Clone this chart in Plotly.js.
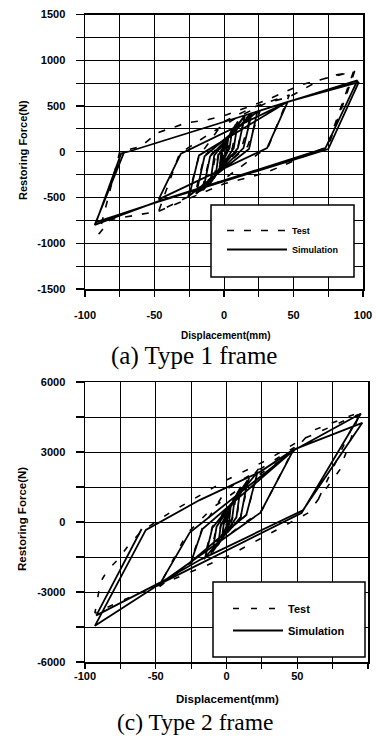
<!DOCTYPE html>
<html>
<head>
<meta charset="utf-8">
<script src="https://cdn.plot.ly/plotly-3.0.1.min.js"></script>
<style>html,body{margin:0;padding:0;background:#fff;}#chart{width:376px;height:736px;}</style>
</head>
<body>
<div id="chart"></div>
<script>
// ---- Data: Type 1 frame ----
const seriesNames = ['Test', 'Simulation'];
const test1X = [0, 3, 1, -3, -1, 6, 3, -7, -4, 10, 6, -10, -6, 15, 10, -16, -10, 20, 13, -21, -14, 26, 17, -26, -18, 0, 20, 47, 32, 0, -47, -32, -10, 10, 30, 47, 70, 94, 75, 30, 0, -47, -82, -90, -75, -60, -48, -37, -27, -12, 2, 30, 55, 69, 81, 93, 74];
const test1Y = [0, 160, 10, -150, -10, 260, 30, -270, -20, 340, 40, -360, -30, 400, 50, -430, -40, 430, 60, -470, -40, 450, 60, -500, -50, 330, 480, 620, 60, -300, -650, -20, 200, 380, 530, 600, 790, 880, 60, -230, -350, -650, -742, -900, 0, 55, 207, 262, 316, 349, 404, 560, 730, 785, 840, 870, 50];
const sim1X = [0, 3, 2, -3, -2, 6, 4, -6, -4, 10, 7, -10, -7, 15, 10, -15, -10, 20, 14, -20, -14, 24, 18, -25, -18, 46, 31, -47, -31, 46, 96, 73, -47, -93, -72, -69, 47, 97, 75, -47, -92, -74, -70];
const sim1Y = [0, 150, 20, -140, -20, 250, 40, -260, -40, 330, 40, -350, -40, 390, 40, -420, -50, 420, 40, -460, -50, 440, 30, -480, -40, 550, 40, -520, -20, 545, 780, 40, -540, -800, -10, 0, 550, 760, 30, -545, -770, -20, 0];
const x1Ticks = [-100, -50, 0, 50, 100];
const y1Ticks = [-1500, -1000, -500, 0, 500, 1000, 1500];

// ---- Data: Type 2 frame ----
const test2X = [0, 3, 1, -4, -2, 7, 4, -7, -4, 11, 7, -11, -7, 16, 10, -16, -10, 23, 14, -26, -17, 0, 30, 48, 25, -20, -48, -28, -10, 20, 47, 60, 94, 87, 80, 71, 58, 0, -47, -75, -93, -89, -84, -77, -68, -60, -40, 0, 30, 52, 93, 62];
const test2Y = [0, 800, 80, -700, -80, 1200, 100, -1100, -100, 1600, 150, -1400, -150, 1900, 200, -1600, -200, 2300, 300, -1800, -250, 1400, 2500, 3200, 500, -1500, -2800, -500, 600, 1900, 3000, 3900, 4700, 3390, 2230, 1500, 400, -1500, -2700, -3400, -3900, -2570, -2060, -1630, -900, -400, 400, 1800, 2700, 3500, 4600, 600];
const sim2X = [0, 3, 2, -3, -2, 6, 4, -6, -4, 10, 7, -10, -7, 15, 10, -15, -10, 22, 14, -25, -17, 47, 24, -47, -26, 47, 95, 53, -47, -93, -57, -19, 24, 47, 96, 54, -18, -47, -92, -60];
const sim2Y = [0, 700, 100, -600, -100, 1100, 150, -1000, -150, 1500, 200, -1300, -200, 1800, 200, -1500, -250, 2150, 300, -1700, -300, 3050, 400, -2650, -450, 3050, 4650, 380, -2650, -4450, -340, 940, 2160, 3090, 4250, 500, -1600, -2600, -4000, -300];
const x2Ticks = [-100, -50, 0, 50, 100];
const y2Ticks = [-6000, -3000, 0, 3000, 6000];

const captions = ['(a) Type 1 frame', '(c) Type 2 frame'];
const xTitle = 'Displacement(mm)';
const yTitle = 'Restoring Force(N)';

const SANS = 'Liberation Sans, Arial, sans-serif';
const SERIF = 'Liberation Serif, Times New Roman, serif';
const W = 376, H = 736;
const px = v => v / W, py = v => 1 - v / H;

const traces = [
  {x: test1X, y: test1Y, name: seriesNames[0], type: 'scatter', mode: 'lines', xaxis: 'x', yaxis: 'y', legend: 'legend', legendgroup: 'a',
   line: {color: '#000', width: 1.6, dash: '7px,10px'}},
  {x: sim1X, y: sim1Y, name: seriesNames[1], type: 'scatter', mode: 'lines', xaxis: 'x', yaxis: 'y', legend: 'legend', legendgroup: 'b',
   line: {color: '#000', width: 1.8}},
  {x: test2X, y: test2Y, name: seriesNames[0], type: 'scatter', mode: 'lines', xaxis: 'x2', yaxis: 'y2', legend: 'legend2', legendgroup: 'c',
   line: {color: '#000', width: 1.6, dash: '6px,12px'}},
  {x: sim2X, y: sim2Y, name: seriesNames[1], type: 'scatter', mode: 'lines', xaxis: 'x2', yaxis: 'y2', legend: 'legend2', legendgroup: 'd',
   line: {color: '#000', width: 1.8}}
];

function axisBase(extra) {
  return Object.assign({
    showline: true, linecolor: '#000', linewidth: 1.5, mirror: true,
    showgrid: true, gridcolor: '#000', gridwidth: 1, zeroline: false,
    ticks: 'outside', tickcolor: '#000', tickwidth: 1.2, ticklen: 6,
    tickfont: {family: SANS, size: 11, color: '#000', weight: 'bold'},
    fixedrange: true
  }, extra);
}

function ann(text, x, y, size, family, angle) {
  return {text: text, xref: 'paper', yref: 'paper', x: px(x), y: py(y), xanchor: 'center', yanchor: 'middle',
    textangle: angle || 0, showarrow: false, font: {family: family, size: size, color: '#000', weight: family === SANS ? 'bold' : 'normal'}};
}

const layout = {
  width: W, height: H, margin: {l: 0, r: 0, t: 0, b: 0},
  paper_bgcolor: '#fff', plot_bgcolor: '#fff',
  showlegend: true,
  xaxis: axisBase({domain: [px(85), px(363)], anchor: 'y', range: [-100, 100], tickvals: x1Ticks, ticktext: x1Ticks.map(String),
    ticklabelstandoff: 9, minor: {dtick: 25, tick0: 0, showgrid: true, gridcolor: '#000', gridwidth: 1, ticks: 'outside', ticklen: 6, tickcolor: '#000'}}),
  yaxis: axisBase({domain: [py(289), py(14.5)], anchor: 'x', range: [-1500, 1500], tickvals: y1Ticks, ticktext: y1Ticks.map(String), ticklen: 8,
    ticklabelstandoff: 8, minor: {dtick: 250, tick0: 0, showgrid: true, gridcolor: '#000', gridwidth: 1, ticks: 'outside', ticklen: 8, tickcolor: '#000'}}),
  xaxis2: axisBase({domain: [px(85), px(368)], anchor: 'y2', range: [-100, 100], tickvals: x2Ticks, ticktext: x2Ticks.map(String), ticklen: 3,
    ticklabelstandoff: 0, minor: {dtick: 25, tick0: 0, showgrid: true, gridcolor: '#000', gridwidth: 1, ticks: 'outside', ticklen: 5, tickcolor: '#000'}}),
  yaxis2: axisBase({domain: [py(662), py(382)], anchor: 'x2', range: [-6000, 6000], tickvals: y2Ticks, ticktext: y2Ticks.map(String), ticklen: 8,
    ticklabelstandoff: 8, minor: {dtick: 1500, tick0: 0, showgrid: true, gridcolor: '#000', gridwidth: 1, ticks: 'outside', ticklen: 8, tickcolor: '#000'}}),
  legend: {x: px(222), y: py(216), xanchor: 'left', yanchor: 'top', bgcolor: 'rgba(0,0,0,0)', borderwidth: 0,
    itemwidth: 60, tracegroupgap: 0, font: {family: SANS, size: 9, color: '#000', weight: 'bold'}},
  legend2: {x: px(228), y: py(594), xanchor: 'left', yanchor: 'top', bgcolor: 'rgba(0,0,0,0)', borderwidth: 0,
    itemwidth: 50, tracegroupgap: 3, font: {family: SANS, size: 11, color: '#000', weight: 'bold'}},
  shapes: [
    {type: 'rect', xref: 'paper', yref: 'paper', x0: px(211), x1: px(354), y0: py(277), y1: py(205), fillcolor: '#fff', line: {color: '#000', width: 1.5}, layer: 'above'},
    {type: 'rect', xref: 'paper', yref: 'paper', x0: px(213), x1: px(365), y0: py(657), y1: py(582), fillcolor: '#fff', line: {color: '#000', width: 1.5}, layer: 'above'}
  ],
  annotations: [
    ann(yTitle, 23, 150, 11, SANS, -90),
    ann(yTitle, 22, 519, 11.5, SANS, -90),
    ann(xTitle, 225, 335, 10, SANS),
    ann(xTitle, 227, 699, 11.5, SANS),
    ann(captions[0], 194, 356, 25, SERIF),
    ann(captions[1], 195, 722, 23.5, SERIF)
  ]
};

Plotly.newPlot('chart', traces, layout, {staticPlot: true, displayModeBar: false});
</script>
</body>
</html>
